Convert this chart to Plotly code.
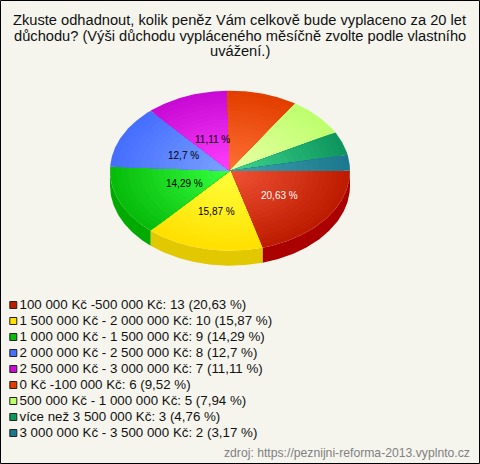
import math
import plotly.graph_objects as go

categories = ["100 000 Kč -500 000 Kč", "1 500 000 Kč - 2 000 000 Kč", "1 000 000 Kč - 1 500 000 Kč",
              "2 000 000 Kč - 2 500 000 Kč", "2 500 000 Kč - 3 000 000 Kč", "0 Kč -100 000 Kč",
              "500 000 Kč - 1 000 000 Kč", "více než 3 500 000 Kč", "3 000 000 Kč - 3 500 000 Kč"]
counts = [13, 10, 9, 8, 7, 6, 5, 3, 2]
percent_labels = ["20,63", "15,87", "14,29", "12,7", "11,11", "9,52", "7,94", "4,76", "3,17"]
edge_colors = [(190, 28, 0), (255, 224, 0), (8, 188, 12), (70, 110, 255), (200, 10, 212),
               (226, 62, 0), (190, 255, 110), (14, 150, 94), (28, 120, 142)]
center_colors = [(240, 82, 52), (255, 255, 60), (52, 255, 62), (122, 162, 255), (255, 62, 255),
                 (255, 112, 52), (232, 255, 165), (62, 212, 142), (62, 160, 172)]
side_colors = [(170, 0, 0), (226, 200, 0), (0, 170, 0)]
title_lines = ["Zkuste odhadnout, kolik peněz Vám celkově bude vyplaceno za 20 let",
               "důchodu? (Výši důchodu vypláceného měsíčně zvolte podle vlastního",
               "uvážení.)"]
source_text = "zdroj: https://peznijni-reforma-2013.vyplnto.cz"

W, H = 480, 464
CX, CY, RX, RY, DEPTH = 230, 170.7, 120, 80, 15
BG = "#f5f5ee"
FONT = "Liberation Sans, Arial, sans-serif"
STEPS = 20
LABEL_R = [0.52, 0.52, 0.42, 0.43, 0.42]

total = sum(counts)
fig = go.Figure()


def arc(a0, a1, rx=RX, ry=RY, dy=0):
    n = max(2, int(abs(a1 - a0) * 1.5))
    pts = [a0 + (a1 - a0) * i / n for i in range(n + 1)]
    return ([CX + rx * math.cos(math.radians(a)) for a in pts],
            [CY + dy + ry * math.sin(math.radians(a)) for a in pts])


def poly(xs, ys, color):
    fig.add_trace(go.Scatter(x=xs, y=ys, mode="lines", fill="toself", fillcolor=color,
                             line=dict(width=0, color=color), hoverinfo="skip", showlegend=False))


bounds = [0.0]
for c in counts:
    bounds.append(bounds[-1] + 360.0 * c / total)

# side wall
for i in range(len(counts)):
    a0, a1 = bounds[i], min(bounds[i + 1], 180.0)
    if a0 >= 180:
        break
    x_top, y_top = arc(a0, a1)
    x_bot, y_bot = arc(a1, a0, dy=DEPTH)
    poly(x_top + x_bot, y_top + y_bot, f"rgb{side_colors[i]}")

# top faces with stepped radial gradient
for i in range(len(counts)):
    a0, a1 = bounds[i], bounds[i + 1]
    for s in range(STEPS):
        f = 1 - s / STEPS
        mix = s / (STEPS - 1)
        col = tuple(round(edge_colors[i][k] + (center_colors[i][k] - edge_colors[i][k]) * mix) for k in range(3))
        xs, ys = arc(a0, a1, RX * f, RY * f)
        poly([CX] + xs + [CX], [CY] + ys + [CY], f"rgb{col}")

# slice labels for the five largest
for i, r in enumerate(LABEL_R):
    mid = math.radians((bounds[i] + bounds[i + 1]) / 2)
    fig.add_annotation(x=CX + RX * r * math.cos(mid) + (1 if i in (2, 4) else 0), y=CY + RY * r * math.sin(mid),
                       text=f"{percent_labels[i]} %", showarrow=False,
                       font=dict(family=FONT, size=10, color="white" if i == 0 else "black"))

# legend
LEG_Y0, LEG_DY = 305, 16
leg_y = [LEG_Y0 + LEG_DY * i for i in range(len(counts))]
fig.add_trace(go.Scatter(
    x=[13.3] * len(counts), y=leg_y, mode="markers", hoverinfo="skip", showlegend=False,
    marker=dict(symbol="square", size=7, color=[f"rgb{c}" for c in edge_colors],
                line=dict(color="#222222", width=1))))
fig.add_trace(go.Scatter(
    x=[19.5] * len(counts), y=[y + 1 for y in leg_y], mode="text", textposition="middle right",
    text=[f"{c}: {n} ({p} %)" for c, n, p in zip(categories, counts, percent_labels)],
    textfont=dict(family=FONT, size=13.33, color="#111111"), hoverinfo="skip", showlegend=False))

for j, line in enumerate(title_lines):
    fig.add_annotation(x=239.5, y=20 + 15.7 * j, text=line, showarrow=False, align="center",
                       font=dict(family=FONT, size=14.67, color="#111111"))
fig.add_annotation(x=470, y=453, xanchor="right", xshift=2, text=source_text, showarrow=False,
                   font=dict(family=FONT, size=12.2, color="#808080"))

fig.add_shape(type="rect", x0=0.5, y0=0.5, x1=W - 0.5, y1=H - 0.5, line=dict(color="black", width=1))

fig.update_layout(width=W, height=H, margin=dict(l=0, r=0, t=0, b=0), paper_bgcolor=BG, plot_bgcolor=BG,
                  showlegend=False,
                  xaxis=dict(range=[0, W], visible=False, fixedrange=True),
                  yaxis=dict(range=[H, 0], visible=False, fixedrange=True))
fig.write_html("out.html", config=dict(displayModeBar=False),
               post_script="document.body.style.margin='0';document.documentElement.style.overflow='hidden';")
